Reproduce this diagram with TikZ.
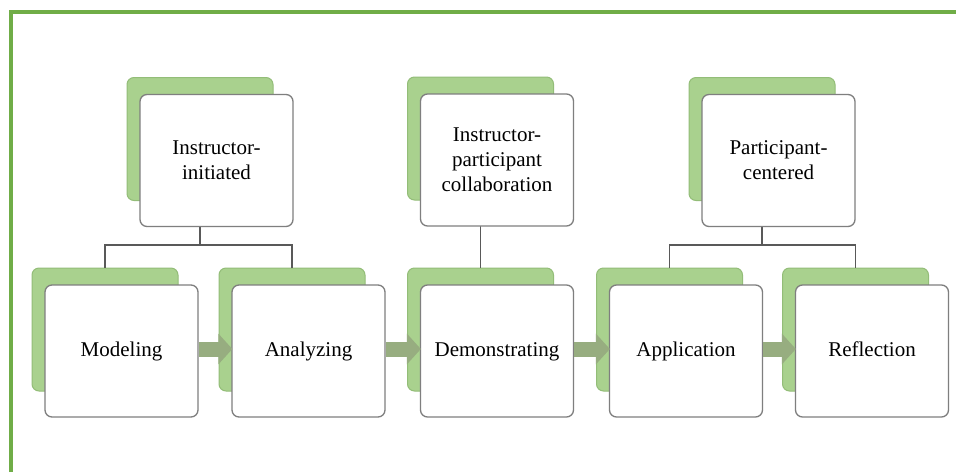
\documentclass[tikz,border=0pt]{standalone}
\usepackage{fontspec}
\setmainfont{Liberation Serif}
\usetikzlibrary{arrows.meta}

\definecolor{framegreen}{HTML}{70AD47}
\definecolor{backfill}{HTML}{A9D18E}
\definecolor{backline}{HTML}{93BD78}
\definecolor{boxline}{HTML}{7F7F7F}
\definecolor{linkgray}{HTML}{595959}
\definecolor{arrowfill}{HTML}{97AD80}

\tikzset{
  frontbox/.style={draw=boxline, fill=white, line width=1.3pt, rounded corners=7pt,
    minimum width=153pt, minimum height=132pt, align=center, inner sep=4pt,
    font=\fontsize{21}{25}\selectfont},
  stepbox/.style={frontbox, text height=14pt, text depth=4pt},
  backbox/.style={draw=backline, fill=backfill, line width=1pt, rounded corners=7pt,
    minimum width=146pt, minimum height=123pt},
  link/.style={draw=linkgray, line width=1.3pt},
  flowarrow/.style={line width=15pt, draw=arrowfill,
    -{Triangle[width=30pt, length=14pt, fill=arrowfill]}, shorten >=-1pt}
}

% back box of a stack, shifted up and to the left of its front box
\newcommand\backpart[3]{\node[backbox] (#1-b) at (#2-16.5, #3-21.5) {};}
\newcommand\frontpart[5]{\node[#1] (#2) at (#3, #4) {#5};}

\begin{document}
\begin{tikzpicture}[x=1pt, y=-1pt]
  \useasboundingbox (0,0) rectangle (956,472);
  \fill[white] (0,0) rectangle (956,472);

  % frame
  \draw[framegreen, line width=4pt] (11,472) -- (11,12) -- (956,12);

  % green back boxes
  \backpart{ii}{216.5}{160.5}
  \backpart{ipc}{497}{160}
  \backpart{pc}{778.5}{160.5}
  \backpart{mod}{121.5}{351}
  \backpart{ana}{308.5}{351}
  \backpart{dem}{497}{351}
  \backpart{app}{686}{351}
  \backpart{ref}{872}{351}

  % hierarchy connectors
  \coordinate (j1) at (ii-b.south |- 0,245);
  \coordinate (j3) at (pc-b.south |- 0,245);
  \draw[link] (ii-b.south) -- (j1);
  \draw[link] (mod-b.north) -- (mod-b.north |- j1) -- (ana-b.north |- j1) -- (ana-b.north);
  \draw[link] (ipc-b.south) -- (dem-b.north);
  \draw[link] (pc-b.south) -- (j3);
  \draw[link] (app-b.north) -- (app-b.north |- j3) -- (ref-b.north |- j3) -- (ref-b.north);

  % white front boxes
  \frontpart{frontbox}{ii}{216.5}{160.5}{Instructor-\\initiated}
  \frontpart{frontbox}{ipc}{497}{160}{Instructor-\\participant\\collaboration}
  \frontpart{frontbox}{pc}{778.5}{160.5}{Participant-\\centered}
  \frontpart{stepbox}{mod}{121.5}{351}{Modeling}
  \frontpart{stepbox}{ana}{308.5}{351}{Analyzing}
  \frontpart{stepbox}{dem}{497}{351}{Demonstrating}
  \frontpart{stepbox}{app}{686}{351}{Application}
  \frontpart{stepbox}{ref}{872}{351}{Reflection}

  % flow arrows
  \draw[flowarrow] ([yshift=2pt]mod.east) -- ([yshift=2pt]ana.west);
  \draw[flowarrow] ([yshift=2pt]ana.east) -- ([yshift=2pt]dem.west);
  \draw[flowarrow] ([yshift=2pt]dem.east) -- ([yshift=2pt]app.west);
  \draw[flowarrow] ([yshift=2pt]app.east) -- ([yshift=2pt]ref.west);
\end{tikzpicture}
\end{document}
